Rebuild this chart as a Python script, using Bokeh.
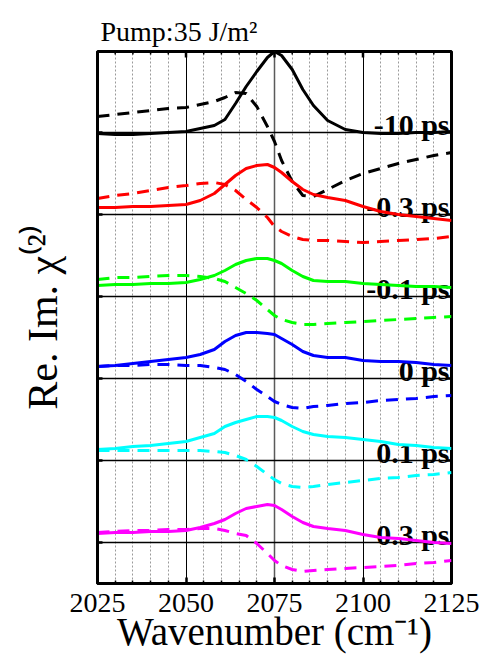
from bokeh.plotting import figure
from bokeh.models import Range1d, FixedTicker, Span, Title
from bokeh.embed import file_html
from bokeh.resources import INLINE
from bokeh.core.properties import value

# ---------------- data ----------------
WAVENUMBER = [2025, 2030, 2035, 2040, 2045, 2050, 2054, 2058, 2061, 2064, 2067, 2070, 2073,
              2075, 2077, 2080, 2083, 2086, 2090, 2095, 2100, 2105, 2110, 2115, 2120, 2125]

DELAYS = ["-10 ps", "-0.3 ps", "-0.1 ps", "0 ps", "0.1 ps", "0.3 ps"]
COLORS = ["#000000", "#ff0000", "#00ff00", "#0000ff", "#00ffff", "#ff00ff"]

# Im chi(2) (solid) and Re chi(2) (dashed), arbitrary units
IM_M10 = [-1, -2, -2, -1, 0, 1, 4, 7, 13, 29, 46, 61, 75, 81, 77, 63, 43, 27, 12, 3, 0, -1, -1, 0, 0, 1]
RE_M10 = [16, 18, 20, 22, 24, 25, 28, 31, 35, 40, 39, 26, 6, -9, -28, -49, -63, -64, -57, -48, -41, -36, -31, -27, -23, -20]
IM_M03 = [7, 7, 8, 8, 9, 10, 14, 21, 30, 39, 46, 49, 50, 47, 42, 33, 25, 20, 17, 14, 8, 3, 0, -2, -4, -6]
RE_M03 = [16, 19, 21, 24, 27, 29, 31, 32, 30, 24, 15, 7, -3, -12, -17, -22, -25, -26, -26, -27, -28, -27, -26, -25, -24, -22]
IM_M01 = [11, 12, 12, 13, 13, 14, 17, 21, 26, 32, 36, 38, 38, 36, 33, 26, 20, 16, 15, 15, 13, 12, 11, 10, 10, 9]
RE_M01 = [17, 19, 19, 20, 21, 21, 20, 18, 15, 9, 3, -4, -13, -19, -23, -26, -28, -28, -27, -26, -25, -24, -23, -22, -21, -20]
IM_0 = [12, 13, 15, 17, 19, 21, 24, 29, 37, 43, 46, 46, 45, 44, 40, 34, 27, 23, 21, 21, 18, 17, 17, 16, 14, 13]
RE_0 = [12, 13, 13, 14, 14, 13, 13, 11, 9, 4, -3, -11, -18, -23, -26, -29, -30, -28, -27, -25, -24, -22, -21, -20, -18, -17]
IM_P01 = [11, 12, 14, 15, 17, 19, 23, 27, 34, 38, 41, 44, 44, 43, 40, 34, 29, 26, 24, 23, 21, 19, 16, 15, 13, 12]
RE_P01 = [10, 10, 10, 10, 10, 10, 10, 9, 8, 5, 1, -6, -14, -19, -23, -26, -27, -26, -24, -22, -20, -18, -17, -15, -14, -12]
IM_P03 = [9, 10, 10, 11, 11, 12, 15, 19, 23, 29, 34, 36, 38, 37, 33, 26, 20, 16, 14, 12, 8, 5, 4, 2, 0, -1]
RE_P03 = [10, 11, 12, 12, 13, 13, 14, 14, 12, 9, 7, -1, -11, -18, -23, -27, -29, -28, -27, -26, -25, -24, -23, -21, -20, -18]

IM_SERIES = [IM_M10, IM_M03, IM_M01, IM_0, IM_P01, IM_P03]
RE_SERIES = [RE_M10, RE_M03, RE_M01, RE_0, RE_P01, RE_P03]

X_TICKS = [2025, 2050, 2075, 2100, 2125]
X_MINOR = [2030, 2035, 2040, 2045, 2055, 2060, 2065, 2070, 2080, 2085, 2090, 2095, 2105, 2110, 2115, 2120]
OFFSET_STEP = 82
OFFSETS = [OFFSET_STEP * (len(DELAYS) - 1 - i) for i in range(len(DELAYS))]

TITLE = "Pump:35 J/m\u00b2"
X_LABEL = "Wavenumber (cm\u207b\u00b9)"
Y_LABEL = "Re. Im. \u03c7\u207d\u00b2\u207e"

# ---------------- figure ----------------
FONT = "Liberation Serif"
X0, X1 = 2025, 2125
Y0, Y1 = -41, 491
XPX = (X1 - X0) / 354.0   # data units per pixel along x
YPX = (Y1 - Y0) / 532.0   # data units per pixel along y

p = figure(width=483, height=662, x_range=Range1d(X0, X1), y_range=Range1d(Y0, Y1),
           output_backend="svg", toolbar_location=None, title=None,
           min_border_left=97, min_border_right=32, min_border_top=51, min_border_bottom=79)
p.background_fill_color = "white"
p.border_fill_color = "white"
p.outline_line_color = "black"
p.outline_line_width = 3

p.add_layout(Title(text=TITLE, align="left", offset=3, standoff=9,
                   text_font=FONT, text_font_size="28px", text_font_style="normal",
                   text_color="black"), "above")

# grid
p.ygrid.visible = False
p.xgrid.ticker = FixedTicker(ticks=[2050, 2100], minor_ticks=X_MINOR)
p.xgrid.grid_line_color = "black"
p.xgrid.grid_line_width = 1
p.xgrid.minor_grid_line_color = "#9a9a9a"
p.xgrid.minor_grid_line_dash = "2 2"
p.xgrid.minor_grid_line_width = 1
p.add_layout(Span(location=2075, dimension="height", line_color="#5a5a5a",
                  line_width=1.5, level="underlay"))
for off in OFFSETS:
    p.add_layout(Span(location=off, dimension="width", line_color="black",
                      line_width=1.5, level="underlay"))

# bottom axis
ax = p.xaxis[0]
ax.ticker = FixedTicker(ticks=X_TICKS, minor_ticks=X_MINOR)
ax.major_tick_in = 6
ax.major_tick_out = 0
ax.minor_tick_in = 3
ax.minor_tick_out = 0
ax.major_tick_line_width = 2.5
ax.minor_tick_line_width = 1.5
ax.axis_line_width = 3
ax.major_label_text_font = FONT
ax.major_label_text_font_size = "28px"
ax.major_label_text_color = "black"
ax.major_label_standoff = 10
ax.axis_label = X_LABEL
ax.axis_label_text_font = FONT
ax.axis_label_text_font_size = "39px"
ax.axis_label_text_font_style = "normal"
ax.axis_label_text_color = "black"
ax.axis_label_standoff = -5

# left axis: line and label only
ay = p.yaxis[0]
ay.ticker = FixedTicker(ticks=[], minor_ticks=[])
ay.axis_line_width = 3
ay.axis_label = Y_LABEL
ay.axis_label_text_font = FONT
ay.axis_label_text_font_size = "42px"
ay.axis_label_text_font_style = "normal"
ay.axis_label_text_color = "black"
ay.axis_label_standoff = 32

# tick marks on the top edge and at the panel baselines on both sides
MAJOR_INNER = [t for t in X_TICKS if t not in (X0, X1)]
p.segment(x0=MAJOR_INNER, x1=MAJOR_INNER, y0=[Y1] * len(MAJOR_INNER),
          y1=[Y1 - 6 * YPX] * len(MAJOR_INNER), line_color="black", line_width=2.5)
p.segment(x0=X_MINOR, x1=X_MINOR, y0=[Y1] * len(X_MINOR),
          y1=[Y1 - 3 * YPX] * len(X_MINOR), line_color="black", line_width=1.5)
p.segment(x0=[X0] * len(OFFSETS), x1=[X0 + 5 * XPX] * len(OFFSETS), y0=OFFSETS, y1=OFFSETS,
          line_color="black", line_width=2.5)
p.segment(x0=[X1] * len(OFFSETS), x1=[X1 - 5 * XPX] * len(OFFSETS), y0=OFFSETS, y1=OFFSETS,
          line_color="black", line_width=2.5)

# panel labels (drawn below the curves)
p.text(x=[X1 - 2 * XPX] * len(DELAYS), y=[off + 8 * YPX for off in OFFSETS], text=DELAYS,
       text_font=value(FONT), text_font_style="bold", text_font_size="30px",
       text_align="right", text_baseline="alphabetic", text_color="black")

# curves
for im, re, off, col in zip(IM_SERIES, RE_SERIES, OFFSETS, COLORS):
    p.line(WAVENUMBER, [v + off for v in re], line_color=col, line_width=3, line_dash="12 8")
    p.line(WAVENUMBER, [v + off for v in im], line_color=col, line_width=3)

open("out.html", "w").write(file_html(p, INLINE))
